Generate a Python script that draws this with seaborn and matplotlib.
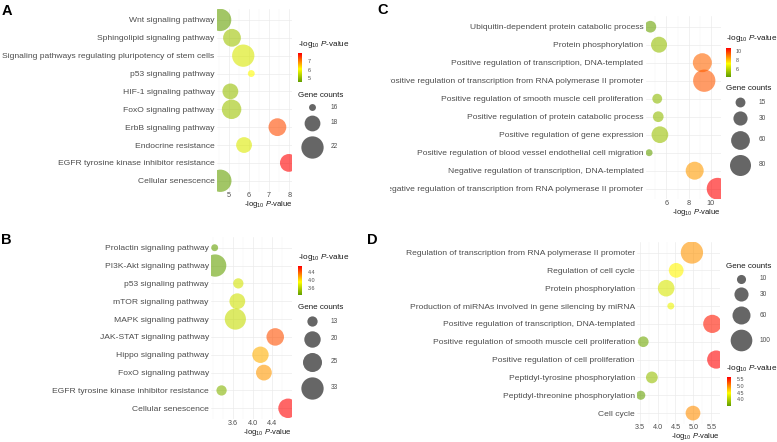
import numpy as np
import pandas as pd
import matplotlib
matplotlib.use("Agg")
import matplotlib as mpl
import matplotlib.pyplot as plt
from matplotlib.colors import LinearSegmentedColormap, Normalize
from matplotlib.ticker import MultipleLocator, FormatStrFormatter
from matplotlib.transforms import Bbox, TransformedBbox
import seaborn as sns

# ---------------- data ----------------
terms_a = ["Wnt signaling pathway", "Sphingolipid signaling pathway",
           "Signaling pathways regulating pluripotency of stem cells",
           "p53 signaling pathway", "HIF-1 signaling pathway", "FoxO signaling pathway",
           "ErbB signaling pathway", "Endocrine resistance",
           "EGFR tyrosine kinase inhibitor resistance", "Cellular senescence"]
logp_a = [4.56, 5.15, 5.71, 6.11, 5.07, 5.13, 7.41, 5.75, 7.98, 4.57]
count_a = [22, 19, 22, 16, 18, 20, 19, 18, 19, 22]
xticks_a = [5, 6, 7, 8]
size_breaks_a = [16, 18, 22]
cbar_ticks_a = [5, 6, 7]

terms_b = ["Prolactin signaling pathway", "PI3K-Akt signaling pathway",
           "p53 signaling pathway", "mTOR signaling pathway", "MAPK signaling pathway",
           "JAK-STAT signaling pathway", "Hippo signaling pathway", "FoxO signaling pathway",
           "EGFR tyrosine kinase inhibitor resistance", "Cellular senescence"]
logp_b = [3.23, 3.24, 3.71, 3.69, 3.65, 4.46, 4.16, 4.23, 3.37, 4.72]
count_b = [12, 33, 13, 19, 30, 22, 20, 19, 13, 26]
xticks_b = [3.6, 4.0, 4.4]
size_breaks_b = [13, 20, 25, 33]
cbar_ticks_b = [3.6, 4.0, 4.4]

terms_c = ["Ubiquitin-dependent protein catabolic process", "Protein phosphorylation",
           "Positive regulation of transcription, DNA-templated",
           "Positive regulation of transcription from RNA polymerase II promoter",
           "Positive regulation of smooth muscle cell proliferation",
           "Positive regulation of protein catabolic process",
           "Positive regulation of gene expression",
           "Positive regulation of blood vessel endothelial cell migration",
           "Negative regulation of transcription, DNA-templated",
           "Negative regulation of transcription from RNA polymerase II promoter"]
logp_c = [4.55, 5.33, 9.23, 9.40, 5.17, 5.26, 5.41, 4.44, 8.54, 10.60]
count_c = [20, 40, 62, 93, 15, 17, 45, 12, 54, 87]
xticks_c = [6, 8, 10]
size_breaks_c = [15, 30, 60, 80]
cbar_ticks_c = [6, 8, 10]

terms_d = ["Regulation of transcription from RNA polymerase II promoter",
           "Regulation of cell cycle", "Protein phosphorylation",
           "Production of miRNAs involved in gene silencing by miRNA",
           "Positive regulation of transcription, DNA-templated",
           "Positive regulation of smooth muscle cell proliferation",
           "Positive regulation of cell proliferation",
           "Peptidyl-tyrosine phosphorylation", "Peptidyl-threonine phosphorylation",
           "Cell cycle"]
logp_d = [4.96, 4.52, 4.24, 4.37, 5.53, 3.60, 5.64, 3.84, 3.53, 4.99]
count_d = [108, 34, 48, 8, 62, 14, 62, 18, 10, 34]
xticks_d = [3.5, 4.0, 4.5, 5.0, 5.5]
size_breaks_d = [10, 30, 60, 100]
cbar_ticks_d = [4.0, 4.5, 5.0, 5.5]

# ---------------- style ----------------
W, H = 777, 442
sns.set_theme(style="white")
plt.rcParams["font.family"] = ["Liberation Sans", "DejaVu Sans"]
plt.rcParams["mathtext.fontset"] = "custom"
plt.rcParams["mathtext.rm"] = "Liberation Sans"
plt.rcParams["mathtext.it"] = "Liberation Sans:italic"

cmap = LinearSegmentedColormap.from_list(
    "gyr", [(0.0, "#64A000"), (0.45, "#FFFF00"), (1.0, "#FF0000")])
PLOG = r"-log$_{10}$ $\mathit{P}$-value"
GREY = "#4D4D4D"
DARK = "#1A1A1A"

fig = plt.figure(figsize=(W / 100, H / 100), dpi=100)
over = fig.add_axes([0, 0, 1, 1], zorder=5)
over.set_xlim(0, W)
over.set_ylim(H, 0)
over.axis("off")


def px_axes(l, t, r, b):
    return fig.add_axes([l / W, 1 - b / H, (r - l) / W, (b - t) / H])


def diam(v, lo, hi, dmin=6.9, dmax=22.3):
    # ggplot-like area scale: diameter grows with sqrt of rescaled value
    return dmin + (dmax - dmin) * np.sqrt((float(v) - lo) / (hi - lo))


def pt2(d):
    return (d * 0.72) ** 2


def panel(box, terms, logp, counts, xticks, minor, fmt, cticks, cfmt, breaks,
          leg_x, ctitle_y, stitle_y, clip_x=None):
    df = pd.DataFrame({"term": terms, "logp": logp, "count": counts})
    lo, hi = min(logp), max(logp)
    clo, chi = min(counts), max(counts)
    sizes = {c: pt2(diam(c, clo, chi)) for c in df["count"].unique()}

    ax = px_axes(*box)
    sns.scatterplot(data=df, x="logp", y="term", hue="logp", palette=cmap,
                    hue_norm=(lo, hi), size="count", sizes=sizes, alpha=0.6,
                    linewidth=0, legend=False, ax=ax, zorder=3)
    r = hi - lo
    ax.set_xlim(lo - 0.05 * r, hi + 0.05 * r)
    ax.set_ylim(len(terms) - 0.4, -0.6)
    ax.set_xticks(xticks)
    ax.xaxis.set_minor_locator(MultipleLocator(minor))
    ax.xaxis.set_major_formatter(FormatStrFormatter(fmt))
    ax.set_axisbelow(True)
    ax.grid(which="major", axis="both", color="#EBEBEB", linewidth=0.5)
    ax.grid(which="minor", axis="x", color="#F2F2F2", linewidth=0.3)
    for s in ax.spines.values():
        s.set_visible(False)
    ax.tick_params(axis="both", which="both", length=0, colors=GREY)
    ax.tick_params(axis="y", labelsize=6.1, pad=1.6)
    ax.tick_params(axis="x", labelsize=5.2, pad=0.5)
    ax.set_ylabel("")
    ax.set_xlabel(PLOG, loc="right", fontsize=5.5, labelpad=0.0, color=DARK)
    if clip_x is not None:
        clip = TransformedBbox(Bbox([[clip_x / W, 0], [1, 1]]), fig.transFigure)
        for lab in ax.get_yticklabels():
            lab.set_clip_box(clip)
            lab.set_clip_on(True)

    # colour legend
    over.text(leg_x, ctitle_y, PLOG, fontsize=5.9, ha="left", va="center", color=DARK)
    cax = px_axes(leg_x, ctitle_y + 9, leg_x + 4.5, ctitle_y + 37.5)
    cb = fig.colorbar(mpl.cm.ScalarMappable(norm=Normalize(lo, hi), cmap=cmap),
                      cax=cax, ticks=cticks, format=cfmt)
    cb.outline.set_visible(False)
    cax.tick_params(length=1.2, width=0.4, color="white", direction="in",
                    labelsize=3.9, labelcolor=GREY, pad=4)

    # size legend
    over.text(leg_x, stitle_y, "Gene counts", fontsize=5.8, ha="left", va="center",
              color=DARK)
    y = stitle_y + 6.5
    for b in breaks:
        d = diam(b, clo, chi)
        h = 1.17 * d + 2
        yc = y + h / 2
        over.scatter([leg_x + 14.3], [yc], s=pt2(d), color="black", alpha=0.6,
                     linewidth=0)
        over.text(leg_x + 33, yc, str(b), fontsize=4.7, ha="left", va="center",
                  color=GREY)
        y += h
    return ax


panel((216.7, 9.2, 292.3, 191.5), terms_a, logp_a, count_a, xticks_a, 0.5, "%g",
      cbar_ticks_a, "%g", size_breaks_a, 297.7, 44.3, 95.7)
panel((211, 237, 291.7, 419), terms_b, logp_b, count_b, xticks_b, 0.2, "%.1f",
      cbar_ticks_b, "%.1f", size_breaks_b, 297.7, 257.3, 307.7)
panel((645.7, 15.9, 721, 199.5), terms_c, logp_c, count_c, xticks_c, 1, "%g",
      cbar_ticks_c, "%g", size_breaks_c, 726, 39, 89, clip_x=390)
panel((637, 241.8, 720, 423.8), terms_d, logp_d, count_d, xticks_d, 0.25, "%.1f",
      cbar_ticks_d, "%.1f", size_breaks_d, 726.5, 368.3, 266, clip_x=390)

for letter, x, y in [("A", 2, 11), ("B", 1, 240), ("C", 377, 10.5), ("D", 367, 240.5)]:
    over.text(x, y, letter, fontsize=10.5, fontweight="bold", ha="left", va="center",
              color="black")

fig.savefig("out.png", dpi=100)
